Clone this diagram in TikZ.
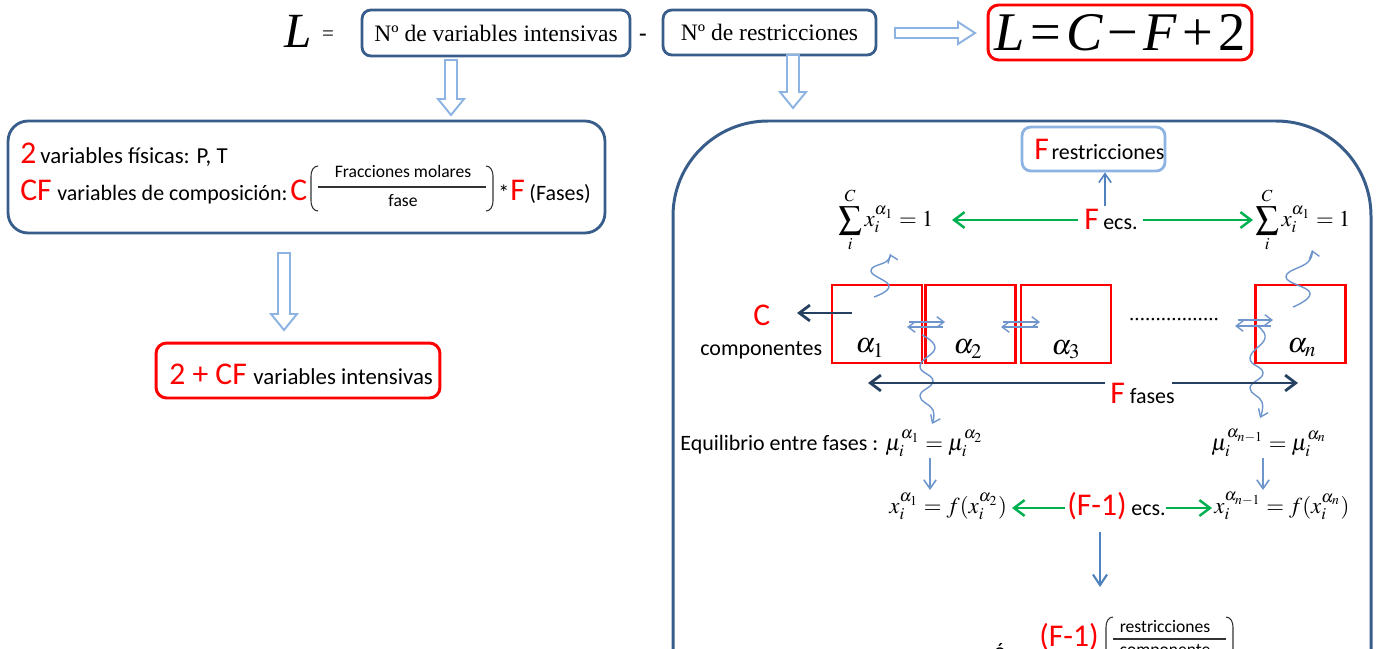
\documentclass[tikz,border=0pt]{standalone}
\usepackage{mathptmx}
\usepackage{amsmath}
\usepackage{graphicx}
\usepackage{fontspec}
\setmainfont{Liberation Serif}
\newfontfamily\cali{Carlito}
\usetikzlibrary{arrows.meta}
\definecolor{boxblue}{RGB}{56,93,138}
\definecolor{lightb}{RGB}{141,179,226}
\definecolor{medb}{RGB}{79,129,189}
\definecolor{wavyb}{RGB}{110,150,205}
\definecolor{grn}{RGB}{0,176,80}
\definecolor{navy}{RGB}{37,64,97}
\newcommand\rbig[1]{{\color{red}\fontsize{18}{20}\selectfont #1}}
\newcommand\hdown[3]{\draw[hollow] ({#1-6},#2) -- ({#1+6},#2) -- ({#1+6},{#3-16}) -- ({#1+13},{#3-16}) -- (#1,#3) -- ({#1-13},{#3-16}) -- ({#1-6},{#3-16}) -- cycle;}
\newcommand\bigsum{\mathop{\vcenter{\hbox{\scalebox{1.45}{$\textstyle\sum$}}}}\limits_i^C}
\tikzset{
  bluebox/.style={draw=boxblue, line width=1.6pt, rounded corners=5pt, fill=white, inner sep=0pt},
  redbox/.style={draw=red, line width=1.7pt, rounded corners=6pt, inner sep=0pt},
  phasebox/.style={draw=red, line width=1.4pt, minimum width=1.8cm, minimum height=1.56cm, inner sep=0pt},
  hollow/.style={draw=lightb, line width=1.1pt, fill=white, line join=miter},
  greenarr/.style={draw=grn, line width=1.4pt, -{Straight Barb[length=6pt,width=9pt]}},
  navyarr/.style={draw=navy, line width=1.6pt, -{Straight Barb[length=6pt,width=9pt]}},
  thinarr/.style={draw=medb, line width=0.9pt, -{Straight Barb[length=5pt,width=7pt]}},
  lightarr/.style={draw=wavyb, line width=0.8pt, -{Straight Barb[length=4pt,width=6pt]}},
  wavy/.style={draw=wavyb, line width=0.8pt, -{Straight Barb[length=4pt,width=6pt]}},
  sans/.style={font=\cali\fontsize{12.5}{15}\selectfont, inner sep=0pt},
  small/.style={font=\cali\fontsize{10}{12}\selectfont, inner sep=0pt},
  mth/.style={font=\fontsize{13}{15}\selectfont, inner sep=0pt},
  alab/.style={font=\fontsize{16}{18}\selectfont, inner sep=0pt},
  txt/.style={inner sep=0pt}
}
\begin{document}
\begin{tikzpicture}[x=0.02cm,y=-0.02cm]
\useasboundingbox (0,0) rectangle (1376,649);

% ---------- top row ----------
\node[txt, anchor=base, font=\itshape\fontsize{28}{30}\selectfont] (Lbig) at (298,47) {L};
\node[txt, anchor=base, font=\fontsize{12}{14}\selectfont] (eqs) at (328,40) {=};
\node[bluebox, minimum width=5.36cm, minimum height=0.92cm, font=\fontsize{13.4}{15}\selectfont] (b1) at (496,33) {Nº de variables intensivas};
\node[txt, anchor=base, font=\bfseries\fontsize{13}{15}\selectfont] (minus) at (643,40) {-};
\node[bluebox, minimum width=4.26cm, minimum height=0.9cm, font=\fontsize{13.4}{15}\selectfont] (b2) at (769.5,32.5) {Nº de restricciones};
\draw[hollow] (895,28) -- (958,28) -- (958,22) -- (975,33) -- (958,44) -- (958,38) -- (895,38) -- cycle;
\node[redbox, minimum width=5.28cm, minimum height=1.1cm, font=\fontsize{31}{33}\selectfont] (b3) at (1120,32.5)
  {\itshape L\kern3pt\upshape=\kern3pt\itshape C\kern3pt\upshape −\kern3pt\itshape F\kern3pt\upshape+\kern3pt2};

\hdown{451}{60}{115}
\hdown{793}{55}{108}

% ---------- left box ----------
\node[bluebox, rounded corners=0.4cm, minimum width=11.94cm, minimum height=2.24cm] (lbox) at (306.5,177) {};
\node[txt, anchor=base west] (two) at (20,163) {\cali\rbig{2}};
\node[sans, anchor=base west, font=\cali\fontsize{13}{15}\selectfont] (fis) at (40,163) {variables físicas: P, T};
\node[txt, anchor=base west] (cf) at (20,200) {\cali\rbig{CF}};
\node[sans, anchor=base west] (comp) at (57,200) {variables de composición:};
\node[txt, anchor=base west] (cc) at (290,200) {\cali\rbig{C}};
\node[small, anchor=base] (frac1) at (403,177) {Fracciones molares};
\node[small, anchor=base] (frac2) at (403,206) {fase};
\draw[line width=0.6pt, black!80] (318,187) -- (486,187);
\draw[line width=0.6pt, black!80] (318,166) to[out=180,in=90] (311,176) -- (311,201) to[out=-90,in=180] (318,211);
\draw[line width=0.6pt, black!80] (486,166) to[out=0,in=90] (493,176) -- (493,201) to[out=-90,in=0] (486,211);
\node[sans, anchor=base west] (star) at (498,200) {*};
\node[txt, anchor=base west] (ff) at (510,200) {\cali\rbig{F}};
\node[sans, anchor=base west] (fases) at (529,200) {(Fases)};

\hdown{284}{253}{330}
\node[redbox, minimum width=5.68cm, minimum height=1.1cm] (rbox) at (298,370.5) {};
\node[txt, anchor=base west] (tcf) at (169,384) {\cali\rbig{2 + CF}};
\node[sans, anchor=base west, font=\cali\fontsize{13}{15}\selectfont] (vint) at (253,384) {variables intensivas};

% ---------- right panel ----------
\draw[draw=boxblue, line width=1.7pt, rounded corners=1.9cm] (673,121) rectangle (1371,780);

\node[draw=lightb, line width=1.6pt, rounded corners=5pt, minimum width=2.86cm, minimum height=0.88cm, inner sep=0pt] (frest) at (1093.5,149) {};
\node[txt, anchor=base west] (frestT) at (1034,159) {\cali\rbig{F}\kern1.5pt\fontsize{12.5}{15}\selectfont restricciones};

\node[txt, anchor=base west] (fecs) at (1084,229) {\cali\rbig{F}\kern2.5pt\fontsize{12.5}{15}\selectfont ecs.};
\coordinate (upA) at (1105,206);
\draw[thinarr] (upA) -- (upA |- frest.south);

\node[mth, anchor=base west] (sumL) at (838,226) {$\bigsum x_i^{\alpha_1} = 1$};
\node[mth, anchor=base west] (sumR) at (1255,226) {$\bigsum x_i^{\alpha_1} = 1$};
\coordinate (gL1) at (1078,220); \coordinate (gL2) at (952,220);
\coordinate (gR1) at (1143,220); \coordinate (gR2) at (1253,220);
\draw[greenarr] (gL1) -- (gL2);
\draw[greenarr] (gR1) -- (gR2);

% phases
\node[phasebox] (p1) at (877,324) {};
\node[phasebox] (p2) at (970.5,324) {};
\node[phasebox] (p3) at (1066,324) {};
\node[phasebox] (pn) at (1300.5,324) {};
\node[alab] (a1) at (870,348) {$\alpha_1$};
\node[alab] (a2) at (968,349) {$\alpha_2$};
\node[alab] (a3) at (1066,350) {$\alpha_3$};
\node[alab] (an) at (1302,348) {$\alpha_n$};
\node[txt, font=\fontsize{12}{14}\selectfont] (dots) at (1174,320) {.................};

% small exchange arrows
\draw[lightarr] (909,322) -- (945,322);
\draw[lightarr] (943,327) -- (907,327);
\draw[lightarr] (1003,322) -- (1040,322);
\draw[lightarr] (1038,327) -- (1001,327);
\draw[lightarr] (1238,320) -- (1273,320);
\draw[lightarr] (1271,326) -- (1235,326);

% wavy arrows
\draw[wavy] plot[smooth, tension=0.8] coordinates {(874,297) (889,286) (871,271) (887,261) (890,254)};
\draw[wavy] plot[smooth, tension=0.8] coordinates {(1293,307) (1310,293) (1286,277) (1308,262) (1312,250)};
\draw[wavy] plot[smooth, tension=0.8] coordinates {(922,335) (935,348) (920,366) (933,381) (920,396) (933,410) (932,424)};
\draw[wavy] plot[smooth, tension=0.8] coordinates {(1256,325) (1265,338) (1250,358) (1263,373) (1250,388) (1262,402) (1260,418)};

% components
\node[txt, anchor=base west] (cC) at (753,325) {\cali\rbig{C}};
\node[sans, anchor=base west] (compo) at (700,355) {componentes};
\coordinate (cA) at (852,313); \coordinate (cB) at (797,313);
\draw[navyarr] (cA) -- (cB);

% F fases
\node[txt, anchor=base west] (ffases) at (1110,403) {\cali\rbig{F}\fontsize{12.5}{15}\selectfont\ fases};
\coordinate (fL1) at (1105,383); \coordinate (fL2) at (868,383);
\coordinate (fR1) at (1172,383); \coordinate (fR2) at (1298,383);
\draw[navyarr] (fL1) -- (fL2);
\draw[navyarr] (fR1) -- (fR2);

% equilibrium
\node[sans, anchor=base west] (equi) at (680,450) {Equilibrio entre fases :};
\node[mth, anchor=base west] (mu1) at (885,450) {$\mu_i^{\alpha_1} = \mu_i^{\alpha_2}$};
\node[mth, anchor=base west] (mu2) at (1211,450) {$\mu_i^{\alpha_{n-1}} = \mu_i^{\alpha_n}$};
\node[mth, anchor=base west] (x1) at (889,513) {$x_i^{\alpha_1} = f(x_i^{\alpha_2})$};
\node[mth, anchor=base west] (x2) at (1214,513) {$x_i^{\alpha_{n-1}} = f(x_i^{\alpha_n})$};
\coordinate (d1) at (930,458); \coordinate (d2) at (1263,458);
\draw[thinarr, draw=wavyb] (d1) -- (930,490);
\draw[thinarr, draw=wavyb] (d2) -- (1263,490);

\node[txt, anchor=base west] (f1) at (1067,515) {\cali\rbig{(F-1)}};
\node[sans, anchor=base west] (f1ecs) at (1131,515) {ecs.};
\draw[greenarr] (1065,508) -- (1012,508);
\draw[greenarr] (1166,508) -- (1212,508);

\coordinate (dd) at (1100,532);
\draw[thinarr, line width=1.2pt, -{Straight Barb[length=6pt,width=8pt]}] (dd) -- (1100,587);

% bottom (cut off)
\node[sans, anchor=base] (o) at (1000,658) {ó};
\node[txt, anchor=base west] (f2) at (1039,646) {\cali\rbig{(F-1)}};
\node[small, anchor=base] (r1) at (1165,632) {restricciones};
\node[small, anchor=base] (r2) at (1165,655) {componente};
\draw[line width=0.6pt, black!80] (1113,639) -- (1226,639);
\draw[line width=0.6pt, black!80] (1113,617) to[out=180,in=90] (1106,627) -- (1106,660);
\draw[line width=0.6pt, black!80] (1226,617) to[out=0,in=90] (1233,627) -- (1233,660);
\end{tikzpicture}
\end{document}
